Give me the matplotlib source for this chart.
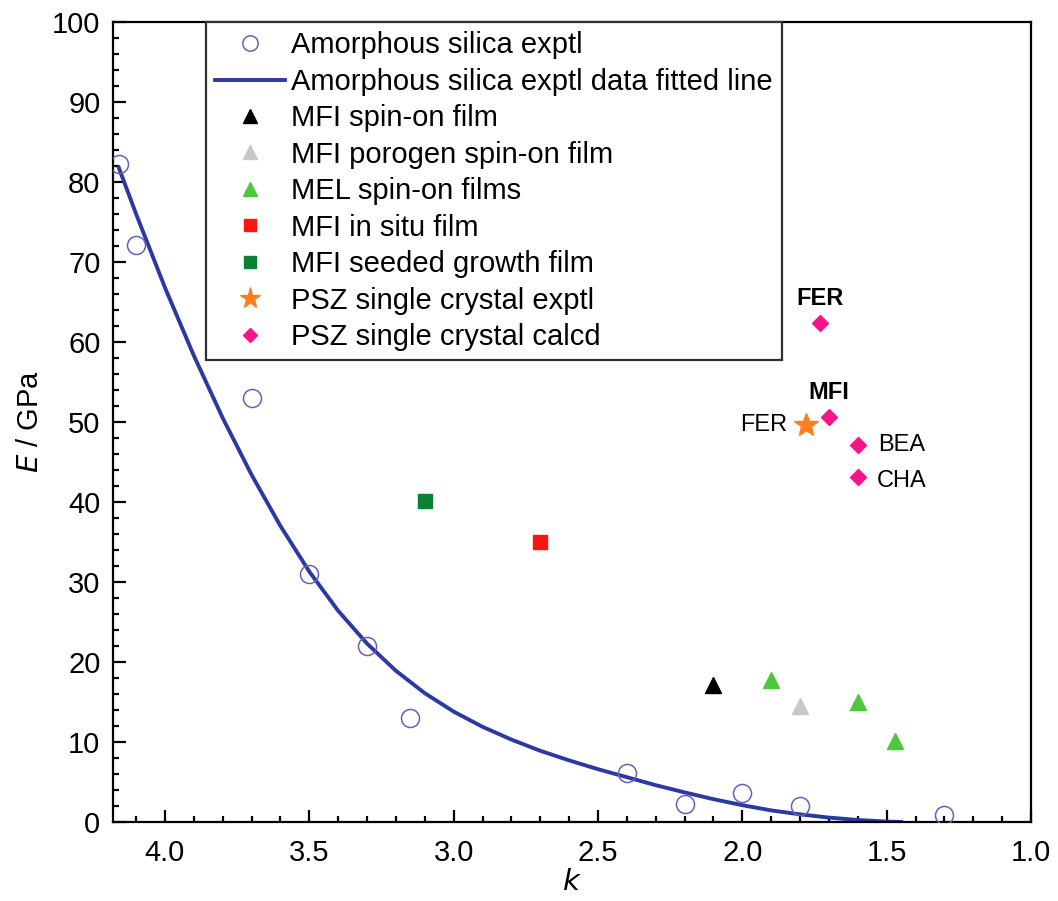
import matplotlib
matplotlib.use("Agg")
import matplotlib.pyplot as plt
from matplotlib.ticker import MultipleLocator, FixedLocator

plt.rcParams['font.family'] = ['Liberation Sans', 'DejaVu Sans']

# ---- data ----
silica_k = [4.16, 4.10, 3.70, 3.50, 3.30, 3.15, 2.40, 2.20, 2.00, 1.80, 1.30]
silica_E = [82.3, 72.1, 53.0, 31.0, 22.0, 13.0, 6.1, 2.3, 3.6, 2.0, 0.9]

fit_k = [4.16, 4.10, 4.00, 3.90, 3.80, 3.70, 3.60, 3.50, 3.40, 3.30, 3.20, 3.10,
         3.00, 2.90, 2.80, 2.70, 2.60, 2.50, 2.40, 2.30, 2.20, 2.10, 2.00, 1.90,
         1.80, 1.70, 1.60, 1.50, 1.45]
fit_E = [81.8, 76.0, 66.8, 58.3, 50.5, 43.4, 37.0, 31.3, 26.4, 22.3, 18.9, 16.1,
         13.8, 11.9, 10.3, 8.9, 7.7, 6.6, 5.6, 4.6, 3.7, 2.85, 2.1, 1.45,
         0.95, 0.55, 0.25, 0.05, 0.0]

mfi_spin_k, mfi_spin_E = [2.10], [17.1]
mfi_porogen_k, mfi_porogen_E = [1.80], [14.5]
mel_k = [1.90, 1.60, 1.47]
mel_E = [17.8, 15.0, 10.1]
mfi_insitu_k, mfi_insitu_E = [2.70], [35.0]
mfi_seeded_k, mfi_seeded_E = [3.10], [40.1]
psz_exp_k, psz_exp_E = [1.78], [49.6]
psz_calc_k = [1.73, 1.70, 1.60, 1.60]
psz_calc_E = [62.4, 50.6, 47.1, 43.1]

labels = ["Amorphous silica exptl",
          "Amorphous silica exptl data fitted line",
          "MFI spin-on film",
          "MFI porogen spin-on film",
          "MEL spin-on films",
          "MFI in situ film",
          "MFI seeded growth film",
          "PSZ single crystal exptl",
          "PSZ single crystal calcd"]

x_ticks = [4.0, 3.5, 3.0, 2.5, 2.0, 1.5, 1.0]
y_ticks = [0, 10, 20, 30, 40, 50, 60, 70, 80, 90, 100]

# ---- figure ----
fig = plt.figure(figsize=(10.58, 9.01), dpi=100)
ax = fig.add_axes([0.1068, 0.0877, 0.8677, 0.8879])

ax.plot(fit_k, fit_E, color='#2b3aa0', lw=2.8, label=labels[1], zorder=2,
        solid_joinstyle='round')
ax.plot(silica_k, silica_E, 'o', ms=13, mfc='none', mec='#6a5fb8', mew=1.1,
        label=labels[0], zorder=3)
ax.plot(mfi_spin_k, mfi_spin_E, '^', ms=12, color='black', label=labels[2], zorder=3)
ax.plot(mfi_porogen_k, mfi_porogen_E, '^', ms=12, color='#c8c8c8', label=labels[3], zorder=3)
ax.plot(mel_k, mel_E, '^', ms=12, color='#4cc83a', ls='none', label=labels[4], zorder=3)
ax.plot(mfi_insitu_k, mfi_insitu_E, 's', ms=9.5, color='#ff1414', label=labels[5], zorder=3)
ax.plot(mfi_seeded_k, mfi_seeded_E, 's', ms=9.5, color='#0a8232', label=labels[6], zorder=3)
ax.plot(psz_exp_k, psz_exp_E, '*', ms=18, color='#ff7f1e', label=labels[7], zorder=3)
ax.plot(psz_calc_k, psz_calc_E, 'D', ms=8.5, color='#f5148c', ls='none', label=labels[8], zorder=3)

# annotations
ax.text(psz_calc_k[0], psz_calc_E[0] + 1.6, "FER", ha='center', va='bottom',
        fontsize=17, fontweight='bold')
ax.text(psz_calc_k[1], psz_calc_E[1] + 1.6, "MFI", ha='center', va='bottom',
        fontsize=17, fontweight='bold')
ax.text(psz_exp_k[0] + 0.065, psz_exp_E[0], "FER", ha='right', va='center', fontsize=17)
ax.text(psz_calc_k[2] - 0.07, psz_calc_E[2], "BEA", ha='left', va='center', fontsize=17)
ax.text(psz_calc_k[3] - 0.065, psz_calc_E[3] - 0.5, "CHA", ha='left', va='center', fontsize=17)

# axes
ax.set_xlim(4.18, 1.0)
ax.set_ylim(0, 100)
ax.xaxis.set_major_locator(FixedLocator(x_ticks))
ax.set_xticklabels([f"{t:.1f}" for t in x_ticks])
ax.xaxis.set_minor_locator(MultipleLocator(0.1))
ax.yaxis.set_major_locator(FixedLocator(y_ticks))
ax.set_yticklabels([str(t) for t in y_ticks])
ax.yaxis.set_minor_locator(MultipleLocator(2))
ax.tick_params(which='both', direction='in', top=False, right=False, width=1.6)
ax.tick_params(which='major', length=9, labelsize=21)
ax.tick_params(axis='x', which='major', pad=12)
ax.tick_params(axis='y', which='major', pad=9)
ax.tick_params(which='minor', length=4.5)
for s in ax.spines.values():
    s.set_linewidth(1.6)

ax.set_xlabel("$\\mathit{k}$", fontsize=21, labelpad=1)
ax.set_ylabel("$\\mathit{E}$ / GPa", fontsize=21, labelpad=6)

# legend
handles, labs = ax.get_legend_handles_labels()
order = [labs.index(l) for l in labels]
leg = ax.legend([handles[i] for i in order], [labs[i] for i in order],
                loc='upper left', bbox_to_anchor=(0.1013, 1.0), borderaxespad=0,
                fontsize=21, frameon=True, fancybox=False, edgecolor='#303030',
                framealpha=1, handlelength=2.4, handletextpad=0.2,
                labelspacing=0.29, borderpad=0.32, markerscale=0.85)
leg.get_frame().set_linewidth(1.6)

fig.savefig("out.png", dpi=100)
